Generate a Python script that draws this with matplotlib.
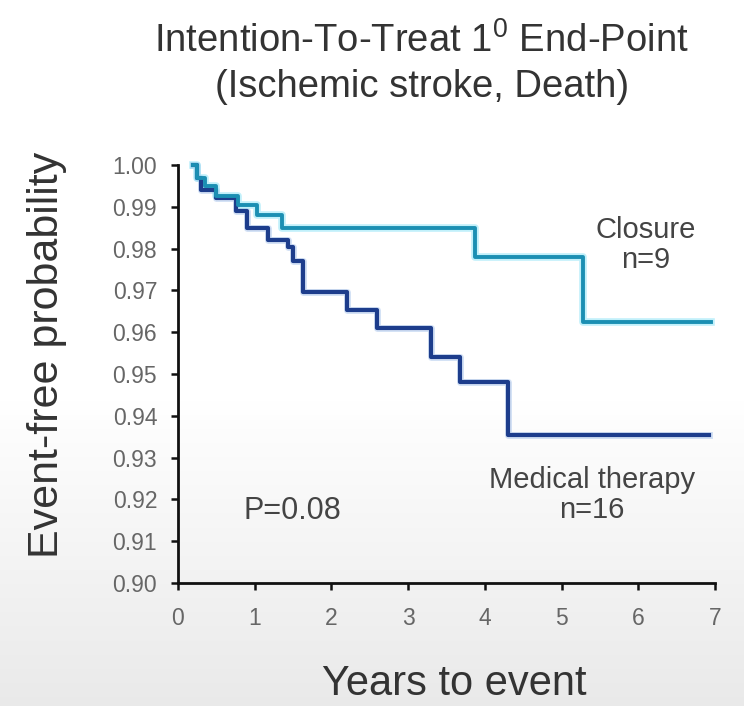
import matplotlib
matplotlib.use("Agg")
import matplotlib.pyplot as plt
import numpy as np

# ---- data ----
closure_t = [0.2, 0.25, 0.35, 0.5, 0.78, 1.03, 1.35, 3.87, 5.28, 6.95]
closure_s = [1.0, 0.997, 0.995, 0.9925, 0.9905, 0.988, 0.985, 0.978, 0.9625, 0.9625]

medical_t = [0.2, 0.25, 0.3, 0.5, 0.75, 0.9, 1.17, 1.43, 1.5, 1.63, 2.2, 2.6, 3.3, 3.68, 4.3, 6.92]
medical_s = [1.0, 0.997, 0.994, 0.992, 0.989, 0.985, 0.982, 0.9805, 0.977, 0.9695,
             0.9654, 0.961, 0.954, 0.948, 0.9355, 0.9355]

x_ticks = [0, 1, 2, 3, 4, 5, 6, 7]
y_ticks = [0.90, 0.91, 0.92, 0.93, 0.94, 0.95, 0.96, 0.97, 0.98, 0.99, 1.00]

title_line1 = "Intention-To-Treat 1$^{0}$ End-Point"
title_line2 = "(Ischemic stroke, Death)"
x_label = "Years to event"
y_label = "Event-free probability"
closure_label = "Closure\nn=9"
medical_label = "Medical therapy\nn=16"
p_label = "P=0.08"

# ---- fonts ----
plt.rcParams['font.family'] = ['Liberation Sans', 'DejaVu Sans']
plt.rcParams['mathtext.fontset'] = 'custom'
plt.rcParams['mathtext.rm'] = 'Liberation Sans'
plt.rcParams['mathtext.it'] = 'Liberation Sans:italic'
plt.rcParams['mathtext.bf'] = 'Liberation Sans:bold'

W, H = 744, 706
fig = plt.figure(figsize=(W / 100, H / 100), dpi=100)
fig.patch.set_facecolor('white')

# background gradient (slide photo look)
bg = fig.add_axes([0, 0, 1, 1], zorder=-10)
grad = np.ones((H, 1))
rows = np.arange(H)
start = 400
grad[start:, 0] = 1 - (rows[start:] - start) / (H - start) * 0.085
bg.imshow(np.dstack([grad, grad, grad]), aspect='auto', extent=[0, 1, 0, 1])
bg.axis('off')

left, right = 178 / W, 715 / W
bottom, top = 1 - 583 / H, 1 - 165 / H
ax = fig.add_axes([left, bottom, right - left, top - bottom])
ax.set_facecolor('none')

light = '#1b8fb3'
dark = '#1d3d8c'

ax.step(closure_t, closure_s, where='post', color='#8fe4f7', lw=5.5, alpha=0.55,
        clip_on=False, zorder=2)
ax.step(closure_t, closure_s, where='post', color=light, lw=2.8, clip_on=False, zorder=4)
ax.step(medical_t, medical_s, where='post', color='#6f9ddf', lw=5, alpha=0.3,
        clip_on=False, zorder=1)
ax.step(medical_t, medical_s, where='post', color=dark, lw=3.0, clip_on=False, zorder=3)

ax.set_xlim(0, 7)
ax.set_ylim(0.90, 1.00)
ax.set_xticks(x_ticks)
ax.set_yticks(y_ticks)
ax.set_xticklabels([str(v) for v in x_ticks])
ax.set_yticklabels([f"{v:.2f}" for v in y_ticks])
for s in ['top', 'right']:
    ax.spines[s].set_visible(False)
for s in ['left', 'bottom']:
    ax.spines[s].set_linewidth(2.0)
    ax.spines[s].set_color('#111111')
ax.tick_params(axis='both', direction='out', length=5, width=1.8, color='#111111',
               labelsize=16.5, labelcolor='#666666')
ax.tick_params(axis='y', pad=10)
ax.tick_params(axis='x', pad=12)

txtc = '#444444'
fig.text(646 / W, 1 - 245 / H, closure_label, ha='center', va='center', fontsize=21,
         color=txtc, linespacing=1.1)
fig.text(592 / W, 1 - 495 / H, medical_label, ha='center', va='center', fontsize=21,
         color=txtc, linespacing=1.1, multialignment='center')
fig.text(292 / W, 1 - 511 / H, p_label, ha='center', va='center', fontsize=22, color=txtc)

fig.text(421 / W, 1 - 41 / H, title_line1, ha='center', va='center', fontsize=27.5, color='#333333')
fig.text(422 / W, 1 - 87 / H, title_line2, ha='center', va='center', fontsize=27.5, color='#333333')

fig.text(454 / W, 1 - 684 / H, x_label, ha='center', va='center', fontsize=30, color='#333333')
fig.text(47 / W, 1 - 355 / H, y_label, ha='center', va='center', fontsize=31,
         color='#333333', rotation=90)

fig.savefig('out.png', dpi=100)
